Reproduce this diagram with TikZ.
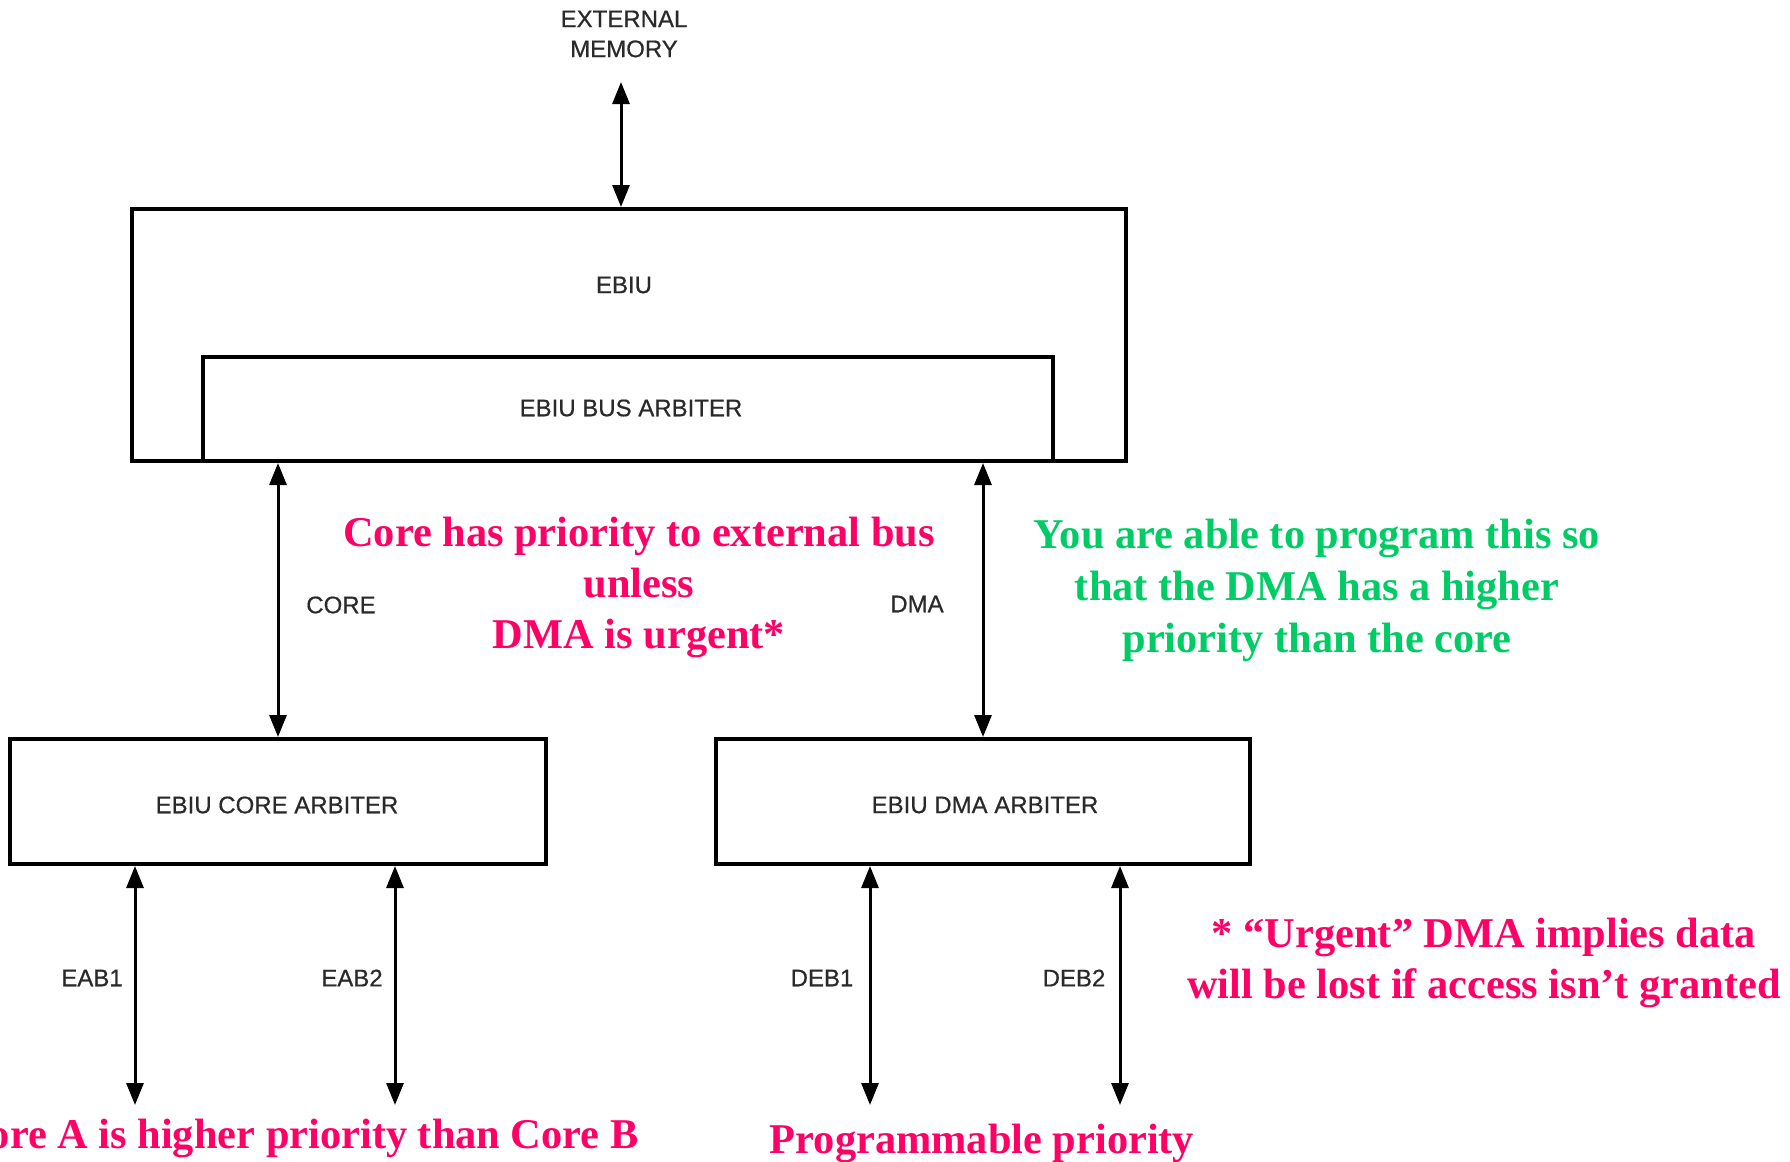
\documentclass[tikz,border=0pt]{standalone}
\usepackage{fontspec}
\usetikzlibrary{arrows.meta}
\newfontfamily\boxfont[FakeBold=0.6]{Liberation Sans}
\newfontfamily\notefont{Liberation Serif}
\definecolor{labelgray}{HTML}{2A2A2A}
\definecolor{notered}{HTML}{FF0066}
\definecolor{notegreen}{HTML}{00CC66}
\tikzset{
  blockbox/.style={draw=black, line width=2pt, fill=none, inner sep=0pt},
  blocklabel/.style={font=\boxfont\fontsize{12}{15}\selectfont, text=labelgray, align=center, inner sep=0pt},
  busarrow/.style={line width=1.5pt, {Triangle[length=11pt,width=8.5pt]}-{Triangle[length=11pt,width=8.5pt]}},
  rednote/.style={font=\notefont\bfseries\fontsize{21.2}{25.5}\selectfont, text=notered, align=center, inner sep=0pt},
  greennote/.style={font=\notefont\bfseries\fontsize{21.2}{26}\selectfont, text=notegreen, align=center, inner sep=0pt}
}
\begin{document}
\begin{tikzpicture}[x=0.5pt, y=-0.5pt]
\useasboundingbox (0,0) rectangle (1790,1162);

% external memory
\node[blocklabel] (extmem) at (624,34) {EXTERNAL\\MEMORY};
\coordinate (memtip) at (621,82);

% EBIU block with its bus arbiter
\node[blockbox, minimum width=497pt, minimum height=126pt] (ebiu) at (629,335) {};
\node[blocklabel] (ebiulbl) at (624,285) {EBIU};
\node[blockbox, minimum width=425pt, minimum height=52pt] (busarb) at (628,409) {};
\node[blocklabel] (busarblbl) at (631,408) {EBIU BUS ARBITER};

% lower arbiters
\node[blockbox, minimum width=268pt, minimum height=62.5pt] (corearb) at (278,801.5) {};
\node[blocklabel] (corearblbl) at (277,805) {EBIU CORE ARBITER};
\node[blockbox, minimum width=267pt, minimum height=62.5pt] (dmaarb) at (983,801.5) {};
\node[blocklabel] (dmaarblbl) at (985,805) {EBIU DMA ARBITER};

% bus connections
\draw[busarrow] (memtip) -- (memtip |- ebiu.north);
\draw[busarrow] (corearb.north) -- (corearb.north |- ebiu.south);
\draw[busarrow] (dmaarb.north) -- (dmaarb.north |- ebiu.south);

\coordinate (eab1) at (135,1105);
\coordinate (eab2) at (395,1105);
\coordinate (deb1) at (870,1105);
\coordinate (deb2) at (1120,1105);
\draw[busarrow] (eab1) -- (eab1 |- corearb.south);
\draw[busarrow] (eab2) -- (eab2 |- corearb.south);
\draw[busarrow] (deb1) -- (deb1 |- dmaarb.south);
\draw[busarrow] (deb2) -- (deb2 |- dmaarb.south);

% bus names
\node[blocklabel] (corelbl) at (341,605) {CORE};
\node[blocklabel] (dmalbl) at (917,604) {DMA};
\node[blocklabel] (eab1lbl) at (92,978) {EAB1};
\node[blocklabel] (eab2lbl) at (352,978) {EAB2};
\node[blocklabel] (deb1lbl) at (822,978) {DEB1};
\node[blocklabel] (deb2lbl) at (1074,978) {DEB2};

% annotations
\node[rednote] (corenote) at (639,587) {Core has priority to external bus\\unless\\DMA is urgent*};
\node[greennote] (dmanote) at (1317,590) {You are able to program this so\\that the DMA has a higher\\priority than the core};
\node[rednote] (urgentnote) at (1484,963) {* “Urgent” DMA implies data\\will be lost if access isn’t granted};
\node[rednote, anchor=east] (corabnote) at (639,1138) {Core A is higher priority than Core B};
\node[rednote] (prognote) at (982,1143) {Programmable priority};
\end{tikzpicture}
\end{document}
